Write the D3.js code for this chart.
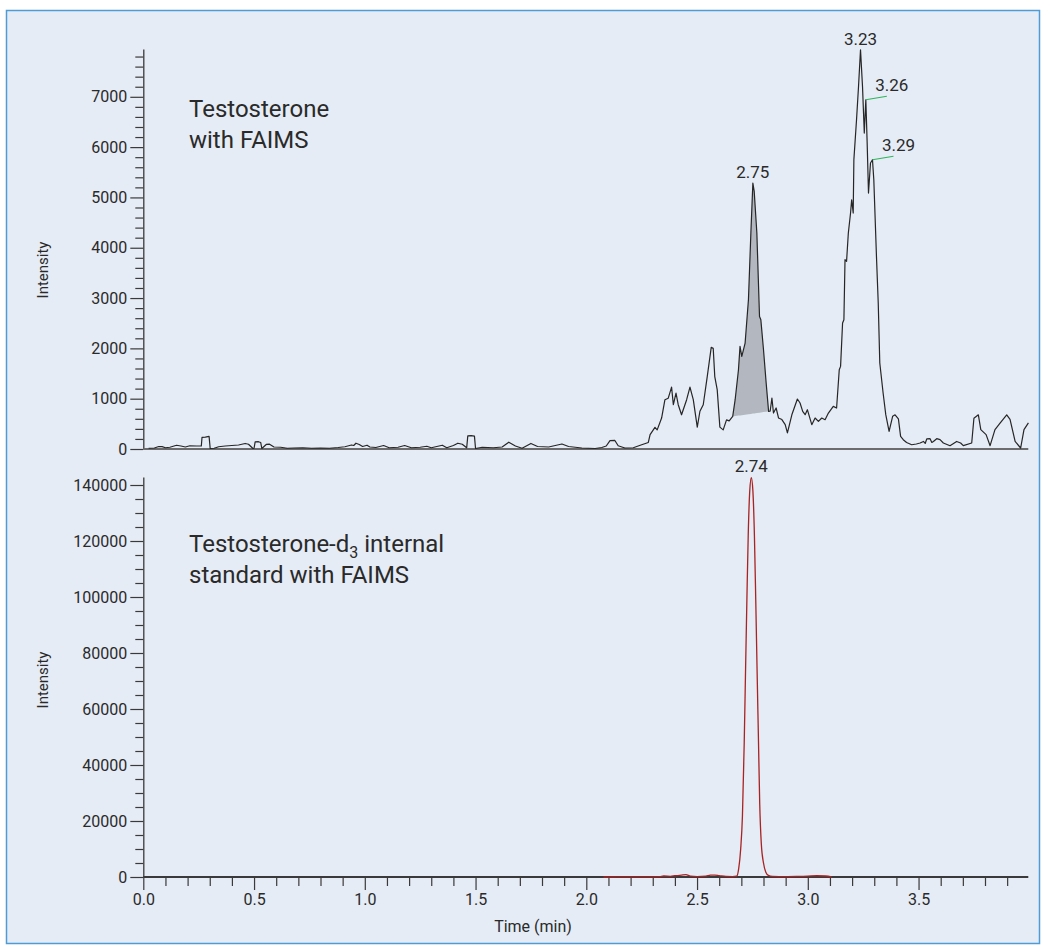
<!DOCTYPE html>
<html>
<head>
<meta charset="utf-8">
<style>
  body { margin: 0; background: #fff; }
  svg text { font-family: Roboto, "Liberation Sans", sans-serif; fill: #2a2a2a; }
</style>
</head>
<body>
<div id="chart"></div>

<script src="https://cdn.jsdelivr.net/npm/d3@7"></script>

<script>

// top panel: testosterone with FAIMS (time in min, intensity)
var topTime = [0.024, 0.05, 0.07, 0.085, 0.10, 0.12, 0.15, 0.17, 0.19, 0.21, 0.24, 0.262, 0.265, 0.28, 0.297, 0.302,
  0.32, 0.34, 0.37, 0.40, 0.43, 0.46, 0.475, 0.495, 0.50, 0.505, 0.52, 0.53, 0.535, 0.555, 0.57, 0.59, 0.62, 0.65,
  0.68, 0.72, 0.76, 0.80, 0.84, 0.88, 0.91, 0.94, 0.95, 0.96, 0.975, 0.99, 1.01, 1.023, 1.05, 1.085, 1.11, 1.15,
  1.18, 1.21, 1.25, 1.28, 1.30, 1.35, 1.37, 1.40, 1.42, 1.44, 1.46, 1.465, 1.48, 1.495, 1.50, 1.53, 1.58, 1.62,
  1.65, 1.68, 1.71, 1.75, 1.78, 1.83, 1.89, 1.92, 1.98, 2.04, 2.07, 2.09, 2.107, 2.129, 2.144, 2.174, 2.212, 2.25,
  2.28, 2.288, 2.31, 2.32, 2.34, 2.355, 2.37, 2.385, 2.393, 2.405, 2.415, 2.43, 2.453, 2.468, 2.483, 2.501, 2.513,
  2.528, 2.546, 2.564, 2.573, 2.58, 2.591, 2.603, 2.618, 2.633, 2.645, 2.661, 2.672, 2.687, 2.694, 2.702, 2.717,
  2.732, 2.743, 2.752, 2.758, 2.770, 2.782, 2.788, 2.800, 2.812, 2.823, 2.83, 2.838, 2.845, 2.857, 2.868, 2.883,
  2.898, 2.908, 2.928, 2.953, 2.965, 2.977, 2.988, 2.998, 3.018, 3.033, 3.048, 3.063, 3.078, 3.093, 3.115, 3.13,
  3.142, 3.148, 3.157, 3.163, 3.168, 3.175, 3.183, 3.193, 3.198, 3.205, 3.208, 3.22, 3.229, 3.238, 3.247, 3.255,
  3.262, 3.268, 3.274, 3.283, 3.292, 3.298, 3.31, 3.318, 3.325, 3.34, 3.352, 3.367, 3.383, 3.394, 3.409, 3.419,
  3.431, 3.446, 3.469, 3.49, 3.507, 3.522, 3.53, 3.537, 3.552, 3.56, 3.567, 3.582, 3.597, 3.612, 3.642, 3.672,
  3.69, 3.702, 3.74, 3.75, 3.77, 3.781, 3.805, 3.823, 3.845, 3.868, 3.898, 3.913, 3.936, 3.961, 3.976, 3.996];
var topIntensity = [15, 20, 50, 48, 25, 35, 75, 60, 40, 65, 60, 60, 230, 235, 250, 10,
  15, 45, 60, 70, 80, 110, 95, 10, 15, 140, 145, 130, 10, 90, 95, 40, 35, 15,
  20, 25, 15, 20, 15, 30, 45, 80, 70, 115, 90, 50, 75, 40, 30, 70, 25, 35,
  70, 25, 35, 55, 25, 75, 25, 70, 115, 95, 25, 260, 265, 255, 10, 35, 25, 40,
  135, 60, 15, 110, 50, 40, 100, 50, 20, 10, 30, 60, 165, 170, 65, 20, 25, 85,
  130, 285, 430, 380, 615, 980, 1010, 1230, 880, 1110, 880, 680, 980, 1230, 980, 435, 750,
  880, 1440, 2020, 2000, 1440, 1180, 435, 380, 580, 560, 648, 980, 1576, 2039, 1840, 2106,
  2967, 4292, 5285, 5120, 4292, 2635, 2570, 1973, 1311, 747, 750, 1010, 715, 815, 615, 585,
  485, 320, 680, 993, 914, 748, 682, 781, 483, 616, 549, 616, 583, 715, 847, 814,
  1576, 1642, 2503, 2570, 3762, 3729, 4292, 4690, 4954, 4690, 5749, 6544, 7205, 7935, 7205, 6279,
  6941, 6080, 5087, 5683, 5749, 5351, 3827, 2901, 1709, 1113, 682, 350, 650, 680, 600, 250,
  185, 130, 85, 100, 120, 150, 110, 200, 205, 130, 150, 205, 185, 120, 65, 150,
  120, 66, 120, 610, 680, 385, 285, 66, 385, 516, 680, 590, 150, 20, 384, 520];

// integrated window of the 2.75 peak
var shadeStart = 2.661, shadeEnd = 2.823;

// bottom panel: testosterone-d3 internal standard
var bottomTime = [2.077, 2.15, 2.25, 2.33, 2.35, 2.38, 2.40, 2.43, 2.45, 2.47, 2.50, 2.54, 2.56, 2.58, 2.60, 2.63,
  2.66, 2.679, 2.688, 2.697, 2.705, 2.713, 2.719, 2.725, 2.731, 2.738, 2.745, 2.752, 2.759, 2.765, 2.771, 2.777,
  2.783, 2.79, 2.80, 2.81, 2.822, 2.84, 2.9, 2.95, 3.0, 3.04, 3.08, 3.108];
var bottomIntensity = [0, 20, 40, 120, 350, 250, 450, 700, 850, 300, 150, 300, 650, 700, 500, 200,
  150, 300, 3000, 10000, 22000, 48000, 74000, 99000, 122000, 138000, 142600, 138000, 122000, 99000, 74000, 50000,
  26000, 12000, 5000, 1800, 600, 250, 150, 200, 300, 450, 350, 50];

// peak labels
var topPeaks = [{time: 3.238, value: 7935, text: "3.23"}, {time: 2.752, value: 5285, text: "2.75"}];
var topFlagged = [{time: 3.262, value: 6941, text: "3.26"}, {time: 3.292, value: 5749, text: "3.29"}];
var bottomPeaks = [{time: 2.745, value: 142600, text: "2.74"}];

// ticks
var xTicks = [0, 0.5, 1.0, 1.5, 2.0, 2.5, 3.0, 3.5];
var topYTicks = [0, 1000, 2000, 3000, 4000, 5000, 6000, 7000];
var bottomYTicks = [0, 20000, 40000, 60000, 80000, 100000, 120000, 140000];

var width = 1045, height = 950;

var svg = d3.select("#chart")
  .append("svg")
    .attr("width", width)
    .attr("height", height);

// panel background with blue frame
svg.append("rect")
  .attr("x", 6.5).attr("y", 10.5)
  .attr("width", 1033).attr("height", 933)
  .attr("fill", "#e5ecf5")
  .attr("stroke", "#4f9bd6")
  .attr("stroke-width", 1.5);

var x = d3.scaleLinear().domain([0, 4.0]).range([143.3, 1029.3]);
var yTop = d3.scaleLinear().domain([0, 7950]).range([449, 49]);
var yBot = d3.scaleLinear().domain([0, 142860]).range([877, 477]);

function minorTicks(step, max, majors) {
  var out = [];
  for (var v = 0; v <= max + 1e-9; v += step) {
    var r = Math.round(v * 1000) / 1000;
    if (majors.indexOf(r) < 0) out.push(r);
  }
  return out;
}

function styleAxis(g) {
  g.selectAll("path").attr("stroke", "#3a3a3a").attr("stroke-width", 1.3);
  g.selectAll("line").attr("stroke", "#3a3a3a").attr("stroke-width", 1.2);
  g.selectAll("text").attr("font-size", 16).attr("fill", "#2a2a2a")
    .style("font-family", "Roboto, sans-serif");
}

function drawYAxis(scale, majors, step, max) {
  var gMinor = svg.append("g")
    .attr("transform", "translate(" + x(0) + ",0)")
    .call(d3.axisLeft(scale).tickValues(minorTicks(step, max, majors)).tickSize(8).tickFormat("").tickSizeOuter(0));
  gMinor.select(".domain").remove();
  styleAxis(gMinor);
  var gMajor = svg.append("g")
    .attr("transform", "translate(" + x(0) + ",0)")
    .call(d3.axisLeft(scale).tickValues(majors).tickSize(13).tickPadding(3).tickSizeOuter(0)
      .tickFormat(d3.format("d")));
  styleAxis(gMajor);
}

drawYAxis(yTop, topYTicks, 200, 7950);
drawYAxis(yBot, bottomYTicks, 5000, 142860);

// top panel baseline
svg.append("line")
  .attr("x1", x(0)).attr("x2", x(4.0) - 1)
  .attr("y1", yTop(0)).attr("y2", yTop(0))
  .attr("stroke", "#6c6c6c").attr("stroke-width", 2);

// bottom x axis, minor then major ticks
var xMinor = svg.append("g")
  .attr("transform", "translate(0," + yBot(0) + ")")
  .call(d3.axisBottom(x).tickValues(minorTicks(0.1, 3.9, xTicks)).tickSize(9).tickFormat("").tickSizeOuter(0));
xMinor.select(".domain").remove();
styleAxis(xMinor);
var xMajor = svg.append("g")
  .attr("transform", "translate(0," + yBot(0) + ")")
  .call(d3.axisBottom(x).tickValues(xTicks).tickSize(13).tickPadding(4).tickSizeOuter(0)
    .tickFormat(d3.format(".1f")));
styleAxis(xMajor);
xMajor.select(".domain").attr("d", "M" + x(0) + ",0H" + (x(4.0) - 1)).attr("stroke-width", 1.8);

// data
var topData = topTime.map(function(t, i) { return {time: t, value: topIntensity[i]}; });
var bottomData = bottomTime.map(function(t, i) { return {time: t, value: bottomIntensity[i]}; });

// shaded 2.75 peak, closed by a straight baseline between its ends
var shadeData = topData.filter(function(d) { return d.time >= shadeStart - 1e-9 && d.time <= shadeEnd + 1e-9; });
var s0 = shadeData[0], s1 = shadeData[shadeData.length - 1];
var base = d3.scaleLinear().domain([s0.time, s1.time]).range([s0.value, s1.value]);
svg.append("path")
  .datum(shadeData)
  .attr("fill", "#b3b8c0")
  .attr("d", d3.area()
    .x(function(d) { return x(d.time); })
    .y0(function(d) { return yTop(base(d.time)); })
    .y1(function(d) { return yTop(d.value); }));

svg.append("path")
  .datum(topData)
  .attr("fill", "none")
  .attr("stroke", "#262626")
  .attr("stroke-width", 1.2)
  .attr("stroke-linejoin", "round")
  .attr("d", d3.line()
    .x(function(d) { return x(d.time); })
    .y(function(d) { return yTop(d.value); }));

svg.append("path")
  .datum(bottomData)
  .attr("fill", "none")
  .attr("stroke", "#a82323")
  .attr("stroke-width", 1.3)
  .attr("d", d3.line()
    .curve(d3.curveMonotoneX)
    .x(function(d) { return x(d.time); })
    .y(function(d) { return yBot(d.value); }));

// peak labels
svg.selectAll(".toppeak")
  .data(topPeaks)
  .enter().append("text")
    .attr("x", function(d) { return x(d.time); })
    .attr("y", function(d) { return yTop(d.value) - 5; })
    .attr("text-anchor", "middle")
    .attr("font-size", 17)
    .text(function(d) { return d.text; });

svg.selectAll(".flagline")
  .data(topFlagged)
  .enter().append("line")
    .attr("x1", function(d) { return x(d.time); })
    .attr("y1", function(d) { return yTop(d.value); })
    .attr("x2", function(d) { return x(d.time) + 21; })
    .attr("y2", function(d) { return yTop(d.value) - 3.5; })
    .attr("stroke", "#2fb35a")
    .attr("stroke-width", 1.2);

svg.selectAll(".flaglabel")
  .data(topFlagged)
  .enter().append("text")
    .attr("x", function(d) { return x(d.time) + 26; })
    .attr("y", function(d) { return yTop(d.value) - 9; })
    .attr("text-anchor", "middle")
    .attr("font-size", 17)
    .text(function(d) { return d.text; });

svg.selectAll(".botpeak")
  .data(bottomPeaks)
  .enter().append("text")
    .attr("x", function(d) { return x(d.time); })
    .attr("y", function(d) { return yBot(d.value) - 6; })
    .attr("text-anchor", "middle")
    .attr("font-size", 17)
    .text(function(d) { return d.text; });

// panel titles
var t1 = svg.append("text").attr("x", 189).attr("y", 117).attr("font-size", 24);
t1.append("tspan").attr("x", 189).text("Testosterone");
t1.append("tspan").attr("x", 189).attr("dy", 31).text("with FAIMS");

var t2 = svg.append("text").attr("x", 189).attr("y", 552).attr("font-size", 24);
t2.append("tspan").attr("x", 189).text("Testosterone-d");
t2.append("tspan").attr("font-size", 16).attr("dy", 6).text("3");
t2.append("tspan").attr("dy", -6).text(" internal");
t2.append("tspan").attr("x", 189).attr("dy", 31).text("standard with FAIMS");

// axis titles
svg.append("text")
  .attr("transform", "translate(48,270) rotate(-90)")
  .attr("text-anchor", "middle")
  .attr("font-size", 15)
  .text("Intensity");
svg.append("text")
  .attr("transform", "translate(48,680) rotate(-90)")
  .attr("text-anchor", "middle")
  .attr("font-size", 15)
  .text("Intensity");
svg.append("text")
  .attr("x", 533).attr("y", 932)
  .attr("text-anchor", "middle")
  .attr("font-size", 16)
  .text("Time (min)");

</script>

</body>
</html>
